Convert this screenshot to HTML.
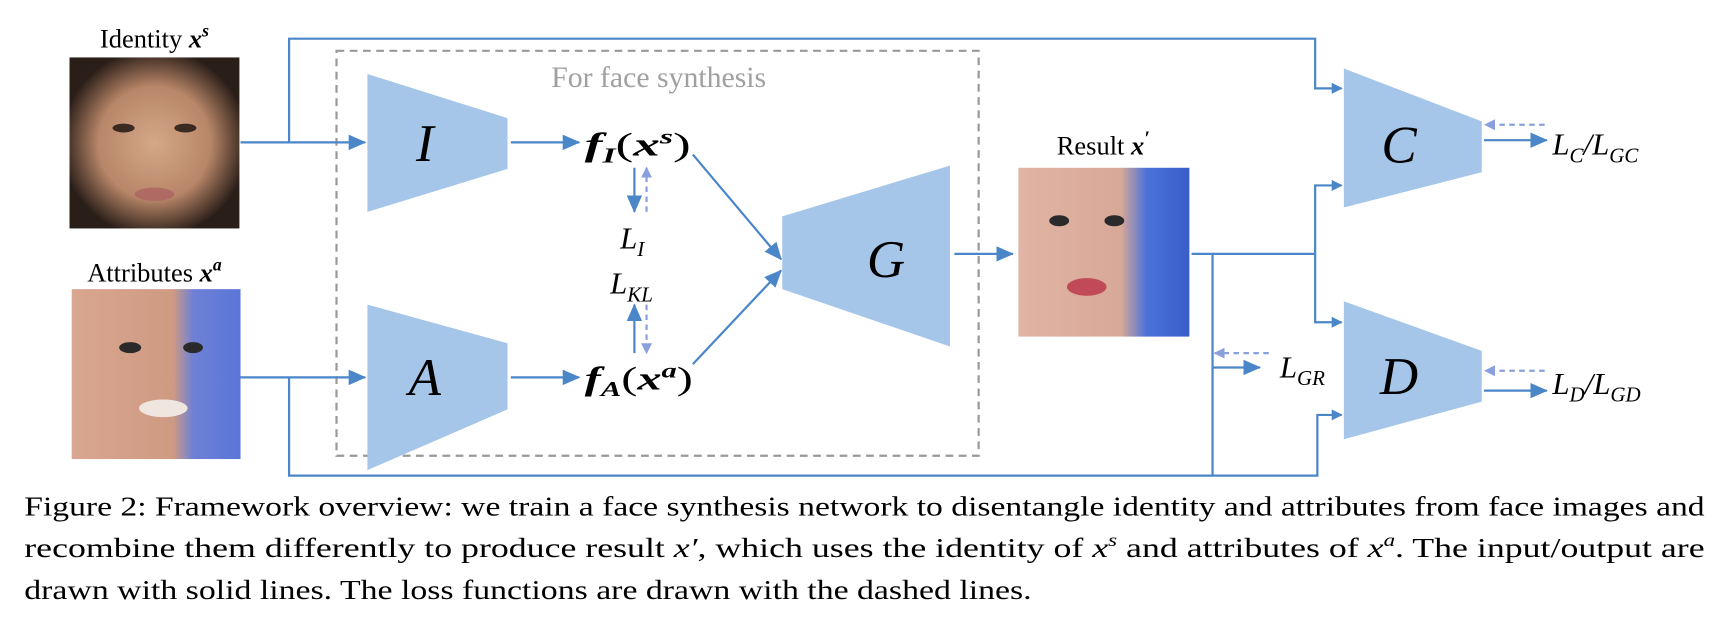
<!DOCTYPE html>
<html><head><meta charset="utf-8"><style>
html,body{margin:0;padding:0;background:#fff;width:1730px;height:618px;overflow:hidden}
svg{display:block}
text{font-family:"Liberation Serif",serif;fill:#000}
.m{font-style:italic}
.b{font-weight:bold;font-style:italic}
</style></head><body>
<svg width="1730" height="618" viewBox="0 0 1568 560" xmlns="http://www.w3.org/2000/svg">
<defs>
<marker id="ar" markerWidth="10" markerHeight="10" refX="9" refY="5" orient="auto" markerUnits="userSpaceOnUse" viewBox="0 0 10 10"><path d="M0,0 L10,5 L0,10 z" fill="#4a86c8"/></marker>
<marker id="ar2" markerWidth="16" markerHeight="14" refX="15" refY="7" orient="auto" markerUnits="userSpaceOnUse" viewBox="0 0 16 14"><path d="M0,0 L16,7 L0,14 z" fill="#4a86c8"/></marker>
<marker id="ad" markerWidth="10" markerHeight="10" refX="9" refY="5" orient="auto" markerUnits="userSpaceOnUse" viewBox="0 0 10 10"><path d="M0,0 L10,5 L0,10 z" fill="#8aa0dc"/></marker>
<radialGradient id="f1" cx="0.5" cy="0.5" r="0.55"><stop offset="0" stop-color="#d4a888"/><stop offset="0.6" stop-color="#b88668"/><stop offset="1" stop-color="#2a1e18"/></radialGradient>
<linearGradient id="f2" x1="0" x2="1"><stop offset="0" stop-color="#d9a690"/><stop offset="0.6" stop-color="#cf9a82"/><stop offset="0.72" stop-color="#6e80d6"/><stop offset="1" stop-color="#5a76d8"/></linearGradient>
<linearGradient id="f3" x1="0" x2="1"><stop offset="0" stop-color="#e0b4a4"/><stop offset="0.6" stop-color="#d8a898"/><stop offset="0.75" stop-color="#4a72d8"/><stop offset="1" stop-color="#3a5ec8"/></linearGradient>
</defs>

<text x="140" y="43" font-size="24" text-anchor="middle">Identity <tspan class="b">x</tspan><tspan class="b" font-size="16" dy="-10">s</tspan></text>
<rect x="63" y="52" width="154" height="155" fill="url(#f1)"/>
<g fill="#3a2a22"><ellipse cx="112" cy="116" rx="10" ry="4"/><ellipse cx="168" cy="116" rx="10" ry="4"/></g>
<ellipse cx="140" cy="176" rx="18" ry="6" fill="#b06a64"/>
<text x="140" y="255" font-size="24" text-anchor="middle">Attributes <tspan class="b">x</tspan><tspan class="b" font-size="16" dy="-10">a</tspan></text>
<rect x="65" y="262" width="153" height="154" fill="url(#f2)"/>
<g fill="#2a2a2a"><ellipse cx="118" cy="315" rx="10" ry="5"/><ellipse cx="175" cy="315" rx="9" ry="5"/></g>
<ellipse cx="148" cy="370" rx="22" ry="8" fill="#f0e6e0"/>
<text x="1000" y="140" font-size="24" text-anchor="middle">Result <tspan class="b">x</tspan><tspan class="b" font-size="18" dy="-9">′</tspan></text>
<rect x="923" y="152" width="155" height="153" fill="url(#f3)"/>
<g fill="#2a2a2a"><ellipse cx="960" cy="200" rx="9" ry="5"/><ellipse cx="1010" cy="200" rx="9" ry="5"/></g>
<ellipse cx="985" cy="260" rx="18" ry="8" fill="#c04a58"/>

<rect x="305" y="46" width="582" height="367" fill="none" stroke="#999" stroke-width="2" stroke-dasharray="7,5"/>
<text x="597" y="79" font-size="27" text-anchor="middle" style="fill:#a0a0a0">For face synthesis</text>

<g fill="#a5c6e8">
<polygon points="333,67 460,107 460,153 333,192"/>
<polygon points="333,276 460,311 460,371 333,426"/>
<polygon points="709,196 861,150 861,314 709,262"/>
<polygon points="1218,62 1343,110 1343,156 1218,188"/>
<polygon points="1218,273 1343,318 1343,364 1218,398"/>
</g>
<text x="385" y="146" font-size="48" class="m" text-anchor="middle">I</text>
<text x="385" y="358" font-size="48" class="m" text-anchor="middle">A</text>
<text x="803" y="251" font-size="48" class="m" text-anchor="middle">G</text>
<text x="1268" y="147" font-size="48" class="m" text-anchor="middle">C</text>
<text x="1268" y="357" font-size="48" class="m" text-anchor="middle">D</text>

<g stroke="#4a86c8" stroke-width="2" fill="none">
<polyline points="218,129 331,129" marker-end="url(#ar2)"/>
<polyline points="262,129 262,35 1192,35 1192,80 1216,80" marker-end="url(#ar)"/>
<polyline points="218,342 331,342" marker-end="url(#ar2)"/>
<polyline points="262,342 262,431 1194,431 1194,376 1216,376" marker-end="url(#ar)"/>
<polyline points="463,129 525,129" marker-end="url(#ar2)"/>
<polyline points="463,342 525,342" marker-end="url(#ar2)"/>
<polyline points="628,140 708,235" marker-end="url(#ar2)"/>
<polyline points="628,330 708,245" marker-end="url(#ar2)"/>
<polyline points="865,230 918,230" marker-end="url(#ar2)"/>
<polyline points="1080,230 1192,230"/>
<polyline points="1192,230 1192,168 1216,168" marker-end="url(#ar)"/>
<polyline points="1192,230 1192,292 1216,292" marker-end="url(#ar)"/>
<polyline points="1099,230 1099,431"/>
<polyline points="1099,333 1142,333" marker-end="url(#ar2)"/>
<polyline points="1345,127 1402,127" marker-end="url(#ar2)"/>
<polyline points="1345,354 1402,354" marker-end="url(#ar2)"/>
<polyline points="575,152 575,192" marker-end="url(#ar2)"/>
<polyline points="575,320 575,276" marker-end="url(#ar2)"/>
</g>
<g stroke="#8aa0dc" stroke-width="2" fill="none" stroke-dasharray="5,4">
<polyline points="586,192 586,152" marker-end="url(#ad)"/>
<polyline points="586,276 586,320" marker-end="url(#ad)"/>
<polyline points="1150,320 1101,320" marker-end="url(#ad)"/>
<polyline points="1400,113 1346,113" marker-end="url(#ad)"/>
<polyline points="1400,336 1346,336" marker-end="url(#ad)"/>
</g>

<text x="530" y="141" font-size="30" textLength="96" lengthAdjust="spacingAndGlyphs"><tspan class="b">f</tspan><tspan class="b" font-size="19" dy="6">I</tspan><tspan dy="-6">(</tspan><tspan class="b">x</tspan><tspan class="b" font-size="19" dy="-11">s</tspan><tspan dy="11">)</tspan></text>
<text x="530" y="353" font-size="30" textLength="98" lengthAdjust="spacingAndGlyphs"><tspan class="b">f</tspan><tspan class="b" font-size="19" dy="6">A</tspan><tspan dy="-6">(</tspan><tspan class="b">x</tspan><tspan class="b" font-size="19" dy="-11">a</tspan><tspan dy="11">)</tspan></text>
<text x="562" y="225" font-size="28" class="m">L<tspan font-size="19" dy="7">I</tspan></text>
<text x="553" y="266" font-size="28" class="m">L<tspan font-size="19" dy="7">KL</tspan></text>
<text x="1160" y="342" font-size="28" class="m">L<tspan font-size="19" dy="7">GR</tspan></text>
<text x="1407" y="140" font-size="28" class="m">L<tspan font-size="19" dy="7">C</tspan><tspan dy="-7">/L</tspan><tspan font-size="19" dy="7">GC</tspan></text>
<text x="1407" y="357" font-size="28" class="m">L<tspan font-size="19" dy="7">D</tspan><tspan dy="-7">/L</tspan><tspan font-size="19" dy="7">GD</tspan></text>

<text x="22" y="467" font-size="25" textLength="1523" lengthAdjust="spacingAndGlyphs">Figure 2: Framework overview: we train a face synthesis network to disentangle identity and attributes from face images and</text>
<text x="22" y="505" font-size="25" textLength="1523" lengthAdjust="spacingAndGlyphs">recombine them differently to produce result <tspan class="m">x′</tspan>, which uses the identity of <tspan class="m">x</tspan><tspan class="m" font-size="16" dy="-10">s</tspan><tspan dy="10"> and attributes of </tspan><tspan class="m">x</tspan><tspan class="m" font-size="16" dy="-10">a</tspan><tspan dy="10">.  The input/output are</tspan></text>
<text x="22" y="543" font-size="25" textLength="913" lengthAdjust="spacingAndGlyphs">drawn with solid lines. The loss functions are drawn with the dashed lines.</text>
</svg>
</body></html>
